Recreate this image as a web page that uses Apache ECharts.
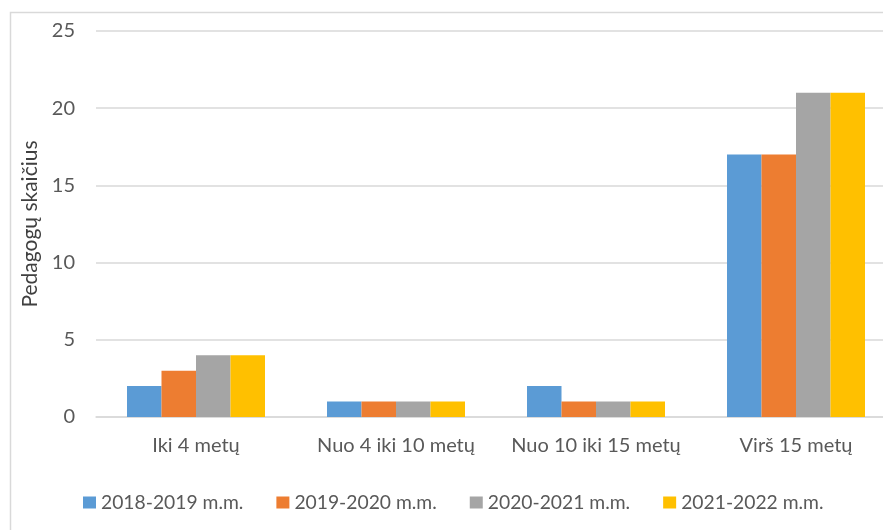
<!DOCTYPE html>
<html><head><meta charset="utf-8">
<script src="https://cdn.jsdelivr.net/npm/echarts@6/dist/echarts.min.js"></script>
<style>html,body{margin:0;padding:0;background:#fff}#c{width:883px;height:530px}</style>
</head><body><div id="c"></div>
<script>
const categories = ["Iki 4 metų", "Nuo 4 iki 10 metų", "Nuo 10 iki 15 metų", "Virš 15 metų"];
const seriesNames = ["2018-2019 m.m.", "2019-2020 m.m.", "2020-2021 m.m.", "2021-2022 m.m."];
const s2018 = [2, 1, 2, 17];
const s2019 = [3, 1, 1, 17];
const s2020 = [4, 1, 1, 21];
const s2021 = [4, 1, 1, 21];
const colors = ["#5b9bd5", "#ed7d31", "#a5a5a5", "#ffc000"];
const yTicks = [0, 5, 10, 15, 20, 25];

const font = "Lato, 'Liberation Sans', sans-serif";
const chart = echarts.init(document.getElementById('c'));
const data = [s2018, s2019, s2020, s2021];
chart.setOption({
  animation: false,
  textStyle: {fontFamily: font},
  graphic: [{type: 'rect', shape: {x: 10.5, y: 12.5, width: 900, height: 540}, style: {fill: 'none', stroke: '#d9d9d9', lineWidth: 1.5}, silent: true}],
  grid: {left: 96, top: 31, width: 800, height: 386, containLabel: false, outerBoundsMode: 'none'},
  legend: {
    top: 493, left: 83, padding: 0, itemWidth: 13, itemHeight: 12, itemGap: 33,
    icon: 'rect',
    textStyle: {fontSize: 19.3, color: '#595959', fontFamily: font},
    data: seriesNames
  },
  xAxis: {
    type: 'category', data: categories,
    axisLine: {lineStyle: {color: '#d9d9d9', width: 1.5}},
    axisTick: {show: false},
    axisLabel: {interval: 0, fontSize: 20, color: '#595959', margin: 19, fontFamily: font}
  },
  yAxis: {
    type: 'value', min: yTicks[0], max: yTicks[yTicks.length - 1], interval: 5,
    name: 'Pedagogų skaičius', nameLocation: 'middle', nameGap: 54, nameRotate: 90,
    nameTextStyle: {fontSize: 21, color: '#404040', fontFamily: font},
    axisLine: {show: false}, axisTick: {show: false},
    axisLabel: {fontSize: 20, color: '#595959', margin: 21, fontFamily: font},
    splitLine: {lineStyle: {color: '#d9d9d9', width: 1.5}}
  },
  series: seriesNames.map((n, i) => ({
    name: n, type: 'bar', data: data[i], barGap: '0%', barCategoryGap: '31%',
    itemStyle: {color: colors[i]}
  }))
});
</script></body></html>
